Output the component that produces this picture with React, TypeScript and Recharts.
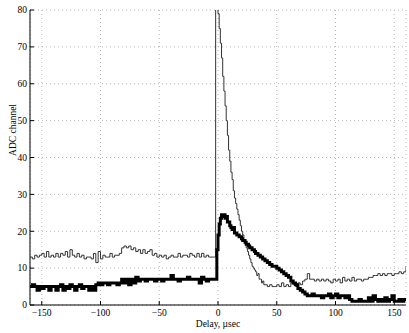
import React from 'react';
import { LineChart, Line, XAxis, YAxis, CartesianGrid, Label } from 'recharts';

// sample times (µs): coarse before the pulse, fine across the pulse, coarse in the tail
const range = (a: number, b: number, s: number) => {
  const out: number[] = [];
  for (let v = a; v <= b; v += s) out.push(v);
  return out;
};
const preTimes = range(-160, -4, 2);
const pulseTimes = range(-3, 40, 1);
const tailTimes = range(42, 160, 2);

// thin trace (ADC channel)
const thinPre = [
  13, 12.5, 13.5, 13, 13.5, 14, 13, 14.5, 13, 13.5,
  13, 14, 13, 14, 13.5, 14.5, 13, 15, 13.5, 13,
  14, 13, 13.5, 12.5, 13, 13, 12.5, 14, 11.5, 14.5,
  12.5, 13.5, 13, 13, 14, 13, 13.5, 13.5, 14, 15.5,
  16, 15.5, 16, 15, 15.5, 14.5, 15, 14, 15, 14,
  14.5, 15, 13.5, 14, 13, 13.5, 13, 13.5, 12.5, 13,
  13.5, 13, 13, 14, 13, 13.5, 13.5, 13, 14, 13.5,
  13, 14, 13, 14, 13, 13.5, 13, 13, 13,
];
const thinPulse = [
  13, 84, 82, 79, 75, 71, 67, 62, 58, 54,
  50, 46, 42, 39, 36, 34, 31, 29, 27.5, 26,
  24.5, 23, 21.5, 20, 19, 17.5, 16.5, 15.5, 14.5, 13.5,
  12.5, 11.5, 10.5, 10, 9.5, 9, 8, 8.5, 7, 7,
  6, 6.5, 5.5, 5.5,
];
const thinTail = [
  5, 5.5, 5, 5, 5.5, 5, 6, 5, 5.5, 5,
  6, 5.5, 5, 6, 5.5, 6.5, 7, 8.5, 7, 7,
  6.5, 7, 6.5, 7, 6.5, 7, 6.5, 6, 7, 6.5,
  7, 6, 7.5, 6.5, 7, 6.5, 7.5, 6.5, 7, 7,
  6.5, 7, 7, 7.5, 7.5, 8, 8, 8.5, 8, 8.5,
  8, 8.5, 8.5, 8, 8.5, 8.5, 9, 8.5, 9, 10.5,
];

// thick trace (ADC channel)
const thickPre = [
  5, 5.5, 5, 4, 5, 4.5, 5, 5, 4, 5,
  5, 4, 5, 5.5, 4, 5, 4.5, 5.5, 5, 4,
  5, 5.5, 4.5, 5, 5, 4, 5, 4, 5.5, 6,
  5.5, 6, 6, 5.5, 6, 6, 6, 5.5, 6, 7,
  6, 7, 5.5, 7, 6, 7.5, 6.5, 7, 7, 6.5,
  7, 7, 7, 6.5, 7, 7, 6.5, 7, 7, 7,
  8, 7, 7, 6.5, 7, 7, 7, 7.5, 7, 7,
  7, 7, 6, 7.5, 7, 6.5, 7, 7, 7,
];
const thickPulse = [
  7, 7, 15, 19, 22, 23.5, 24.5, 24, 24.5, 23.5,
  24, 22.5, 22.5, 21.5, 21, 20.5, 21, 19.5, 19.5, 19,
  19, 18.5, 18.5, 18, 17.5, 17.5, 17, 16.5, 16.5, 16,
  15.5, 15.5, 15, 15, 14.5, 14, 14, 13.5, 13.5, 13,
  13, 12.5, 12.5, 12,
];
const thickTail = [
  11.5, 11, 10.5, 10.5, 10, 9.5, 9, 8.5, 8, 7.5,
  6.5, 6, 5.5, 4.5, 4, 3.5, 3, 2.5, 2.5, 3,
  2.5, 2.5, 2.5, 2, 2.5, 2.5, 3, 2, 2.5, 3,
  2, 2.5, 2.5, 2, 2.5, 1.5, 1, 1, 1, 1.5,
  1, 1, 1, 2, 1, 2.5, 1.5, 1, 1.5, 1,
  2, 1, 1.5, 2.5, 1, 1, 1.5, 1, 1.5, 1,
];

const xTicks = [-150, -100, -50, 0, 50, 100, 150];
const yTicks = [0, 10, 20, 30, 40, 50, 60, 70, 80];

const delays = [...preTimes, ...pulseTimes, ...tailTimes];
const thinValues = [...thinPre, ...thinPulse, ...thinTail];
const thickValues = [...thickPre, ...thickPulse, ...thickTail];
const data = delays.map((d, i) => ({ delay: d, thin: thinValues[i], thick: thickValues[i] }));

const FONT = '"Liberation Serif", "Times New Roman", serif';
const FS = 9.5;
const fmt = (v: number) => String(v).replace('-', '\u2212');

const BottomTick = (p: any) => (
  <g>
    <line x1={p.x} x2={p.x} y1={p.y} y2={p.y - 4} stroke="#000" strokeWidth={1} />
    <text x={p.x} y={p.y + 11} textAnchor="middle" fontFamily={FONT} fontSize={FS} fill="#000">
      {fmt(p.payload.value)}
    </text>
  </g>
);
const TopTick = (p: any) => (
  <line x1={p.x} x2={p.x} y1={p.y} y2={p.y + 4} stroke="#000" strokeWidth={1} />
);
const LeftTick = (p: any) => (
  <g>
    <line x1={p.x} x2={p.x + 4} y1={p.y} y2={p.y} stroke="#000" strokeWidth={1} />
    <text x={p.x - 3} y={p.y + 3.3} textAnchor="end" fontFamily={FONT} fontSize={FS} fill="#000">
      {fmt(p.payload.value)}
    </text>
  </g>
);
const RightTick = (p: any) => (
  <line x1={p.x} x2={p.x - 4} y1={p.y} y2={p.y} stroke="#000" strokeWidth={1} />
);

export default function App() {
  return (
    <div style={{ position: 'absolute', left: 0, top: 0, width: 409, height: 333, background: '#fff' }}>
      <LineChart width={409} height={333} data={data} margin={{ top: 10, right: 3, bottom: 0, left: 0 }}>
        <CartesianGrid stroke="#b8b8b8" strokeDasharray="1 3" />
        <XAxis
          dataKey="delay"
          type="number"
          domain={[-160, 160]}
          ticks={xTicks}
          allowDataOverflow
          height={28}
          tickSize={0}
          tickMargin={0}
          tickLine={false}
          axisLine={{ stroke: '#000' }}
          tick={<BottomTick />}
          interval={0}
        >
          <Label
            content={() => (
              <text x={218} y={327} textAnchor="middle" fontFamily={FONT} fontSize={FS} fill="#000">
                Delay, µsec
              </text>
            )}
          />
        </XAxis>
        <XAxis
          xAxisId="top"
          orientation="top"
          dataKey="delay"
          type="number"
          domain={[-160, 160]}
          ticks={xTicks}
          allowDataOverflow
          height={0}
          tickSize={0}
          tickMargin={0}
          tickLine={false}
          axisLine={{ stroke: '#000' }}
          tick={<TopTick />}
          interval={0}
        />
        <YAxis
          type="number"
          domain={[0, 80]}
          ticks={yTicks}
          allowDataOverflow
          width={30}
          tickSize={0}
          tickMargin={0}
          tickLine={false}
          axisLine={{ stroke: '#000' }}
          tick={<LeftTick />}
          interval={0}
        >
          <Label
            content={() => (
              <text
                x={13}
                y={130}
                transform="rotate(-90, 13, 130)"
                textAnchor="middle"
                dominantBaseline="central"
                fontFamily={FONT}
                fontSize={FS}
                fill="#000"
              >
                ADC channel
              </text>
            )}
          />
        </YAxis>
        <YAxis
          yAxisId="right"
          orientation="right"
          type="number"
          domain={[0, 80]}
          ticks={yTicks}
          allowDataOverflow
          width={0}
          tickSize={0}
          tickMargin={0}
          tickLine={false}
          axisLine={{ stroke: '#000' }}
          tick={<RightTick />}
          interval={0}
        />
        <Line
          dataKey="thin"
          type="stepAfter"
          stroke="#333"
          strokeWidth={1}
          dot={false}
          activeDot={false}
          isAnimationActive={false}
        />
        <Line
          dataKey="thick"
          type="stepAfter"
          stroke="#000"
          strokeWidth={3}
          dot={false}
          activeDot={false}
          isAnimationActive={false}
        />
      </LineChart>
    </div>
  );
}
